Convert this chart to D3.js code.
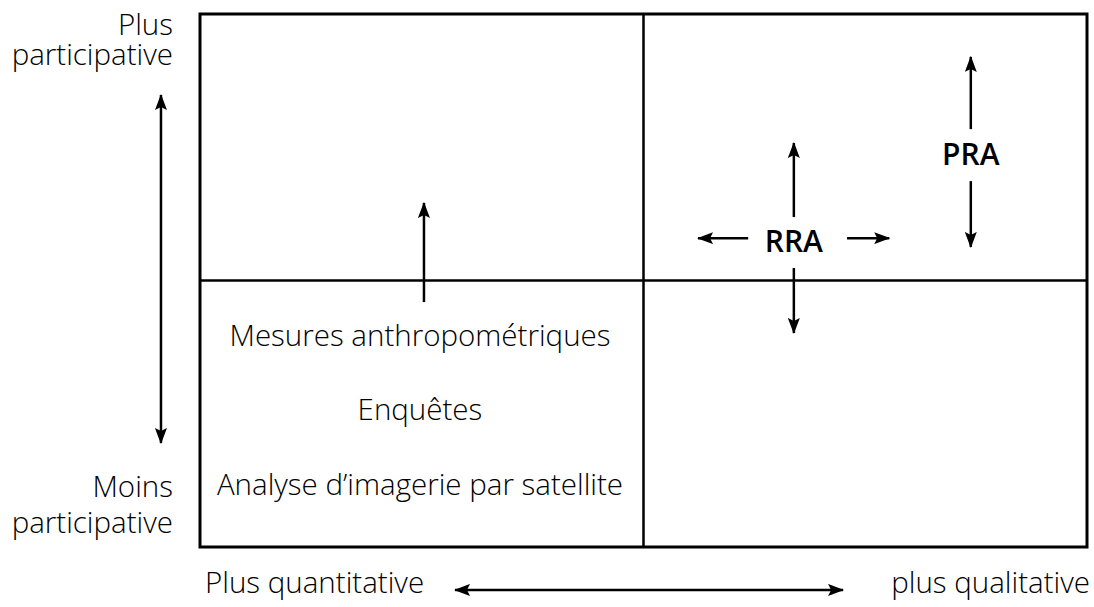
<!DOCTYPE html>
<meta charset="utf-8">
<script src="https://cdn.jsdelivr.net/npm/d3@7"></script>
<style>
  body { margin: 0; background: #fff; }
  text { font-family: "Open Sans", sans-serif; fill: #000; }
</style>
<svg></svg>
<script>
    // quadrant coordinates: x 0..2 (quantitative -> qualitative), y 0..2 (less -> more participative)
    var arrows = [
        { x1: -0.088, y1: 0.390, x2: -0.088, y2: 1.696, both: true },
        { x1: 0.575, y1: -0.161, x2: 1.450, y2: -0.161, both: true },
        { x1: 0.505, y1: 0.919, x2: 0.505, y2: 1.291 },
        { x1: 1.339, y1: 1.238, x2: 1.339, y2: 1.516 },
        { x1: 1.339, y1: 1.047, x2: 1.339, y2: 0.803 },
        { x1: 1.236, y1: 1.159, x2: 1.123, y2: 1.159 },
        { x1: 1.459, y1: 1.159, x2: 1.554, y2: 1.159 },
        { x1: 1.738, y1: 1.568, x2: 1.738, y2: 1.839 },
        { x1: 1.738, y1: 1.373, x2: 1.738, y2: 1.126 }
    ];
    var methods = ['Mesures anthropométriques', 'Enquêtes', "Analyse d’imagerie par satellite"];
    var methodY = [0.754, 0.477, 0.195];
    var approaches = [{ name: 'RRA', x: 1.339, y: 1.107 }, { name: 'PRA', x: 1.738, y: 1.433 }];

    var svg = d3.select('svg').attr('width', 1094).attr('height', 607);
    var x = d3.scaleLinear().domain([0, 2]).range([200, 1087]);
    var y = d3.scaleLinear().domain([0, 2]).range([547, 14]);

    var defs = svg.append('defs');
    ['end', 'start'].forEach(function (k) {
        defs.append('marker')
            .attr('id', 'head-' + k)
            .attr('viewBox', '0 -6 16 12')
            .attr('refX', 15).attr('refY', 0)
            .attr('markerWidth', 16).attr('markerHeight', 12)
            .attr('markerUnits', 'userSpaceOnUse')
            .attr('orient', k == 'end' ? 'auto' : 'auto-start-reverse')
            .append('path')
            .attr('d', 'M0,-6 L16,0 L0,6 L3,0 Z')
            .attr('fill', '#000');
    });

    // box and quadrant lines
    svg.append('rect')
        .attr('x', x(0)).attr('y', y(2))
        .attr('width', x(2) - x(0)).attr('height', y(0) - y(2))
        .attr('fill', 'none').attr('stroke', '#000').attr('stroke-width', 3);
    svg.append('line')
        .attr('x1', x(1)).attr('x2', x(1)).attr('y1', y(0)).attr('y2', y(2))
        .attr('stroke', '#000').attr('stroke-width', 2.5);
    svg.append('line')
        .attr('x1', x(0)).attr('x2', x(2)).attr('y1', y(1)).attr('y2', y(1))
        .attr('stroke', '#000').attr('stroke-width', 2.5);

    svg.selectAll('.arrow').data(arrows).enter().append('line')
        .attr('class', 'arrow')
        .attr('x1', d => x(d.x1)).attr('y1', d => y(d.y1))
        .attr('x2', d => x(d.x2)).attr('y2', d => y(d.y2))
        .attr('stroke', '#000').attr('stroke-width', 2.5)
        .attr('marker-end', 'url(#head-end)')
        .attr('marker-start', d => d.both ? 'url(#head-start)' : null);

    svg.selectAll('.method').data(methods).enter().append('text')
        .attr('class', 'method')
        .attr('x', x(0.496)).attr('y', (d, i) => y(methodY[i]))
        .attr('text-anchor', 'middle')
        .style('font-size', '29.5px').style('font-weight', 300)
        .text(d => d);

    svg.selectAll('.approach').data(approaches).enter().append('text')
        .attr('class', 'approach')
        .attr('x', d => x(d.x)).attr('y', d => y(d.y))
        .attr('text-anchor', 'middle')
        .style('font-size', '30px').style('font-weight', 600)
        .text(d => d.name);

    // axis labels
    var axisLabels = [
        { t: 'Plus', x: 173, y: 35, a: 'end' },
        { t: 'participative', x: 173, y: 65, a: 'end' },
        { t: 'Moins', x: 173, y: 497, a: 'end' },
        { t: 'participative', x: 173, y: 533, a: 'end' },
        { t: 'Plus quantitative', x: 205, y: 593, a: 'start' },
        { t: 'plus qualitative', x: 1090, y: 593, a: 'end' }
    ];
    svg.selectAll('.axlab').data(axisLabels).enter().append('text')
        .attr('class', 'axlab')
        .attr('x', d => d.x).attr('y', d => d.y)
        .attr('text-anchor', d => d.a)
        .style('font-size', '29.5px').style('font-weight', 300)
        .text(d => d.t);
</script>
